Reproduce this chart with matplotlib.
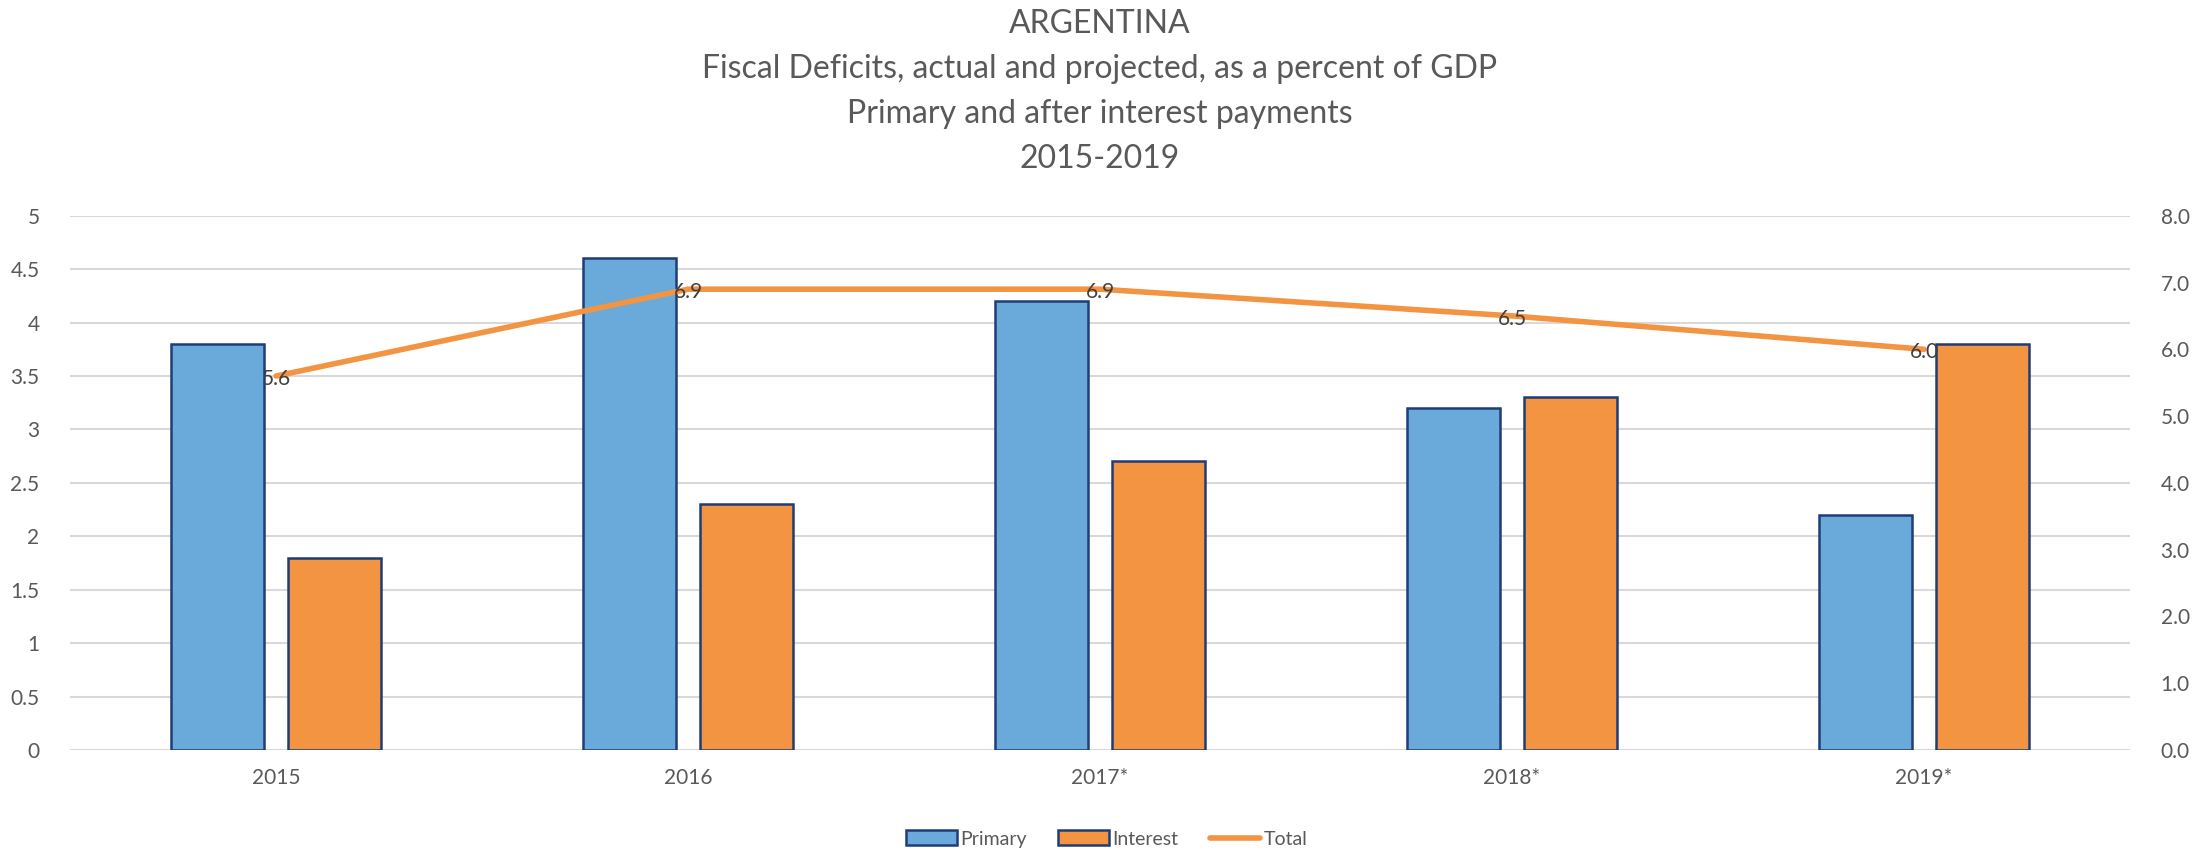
import matplotlib

matplotlib.use("Agg")
import matplotlib.pyplot as plt
import numpy as np
from matplotlib.lines import Line2D
from matplotlib.patches import Patch

plt.rcParams["font.family"] = ["Lato", "DejaVu Sans"]

years = ["2015", "2016", "2017*", "2018*", "2019*"]
primary = [3.8, 4.6, 4.2, 3.2, 2.2]
interest = [1.8, 2.3, 2.7, 3.3, 3.8]
total = [5.6, 6.9, 6.9, 6.5, 6.0]

BLUE = "#6AAADB"
ORANGE = "#F29441"
EDGE = "#1F3C78"
GRID = "#D9D9D9"
TXT = "#595959"

fig = plt.figure(figsize=(22.11, 8.52), dpi=100)
ax = fig.add_axes([0.0317, 0.1197, 0.9317, 0.6271])
ax2 = ax.twinx()

x = np.arange(len(years))
w, off = 0.225, 0.1415
ax.bar(x - off, primary, w, color=BLUE, edgecolor=EDGE, linewidth=1.8, zorder=3)
ax.bar(x + off, interest, w, color=ORANGE, edgecolor=EDGE, linewidth=1.8, zorder=3)

ax2.plot(x, total, color=ORANGE, lw=4, solid_capstyle="round", zorder=3)
for xi, v in zip(x, total):
    ax2.annotate(f"{v:.1f}", (xi, v), xytext=(0, -2), textcoords="offset points",
                 ha="center", va="center", fontsize=15, color="#404040", zorder=4)

ax.set_xlim(-0.5, len(years) - 0.5)
ax.set_ylim(0, 5)
ax2.set_ylim(0, 8)
ax.set_yticks(np.arange(0, 5.01, 0.5))
ax.set_yticklabels([f"{t:g}" for t in np.arange(0, 5.01, 0.5)])
ax2.set_yticks(np.arange(0, 8.01, 1))
ax2.set_yticklabels([f"{t:.1f}" for t in np.arange(0, 8.01, 1)])
ax.set_xticks(x)
ax.set_xticklabels(years)

ax.grid(axis="y", color=GRID, lw=1.5, zorder=0)
ax.set_axisbelow(True)
for a in (ax, ax2):
    for s in a.spines.values():
        s.set_visible(False)
ax.tick_params(axis="both", length=0, labelsize=15, labelcolor=TXT)
ax.tick_params(axis="y", pad=22)
ax.tick_params(axis="x", pad=13)
ax2.tick_params(axis="y", length=0, labelsize=15, labelcolor=TXT, pad=22)

title = ["ARGENTINA",
         "Fiscal Deficits, actual and projected, as a percent of GDP",
         "Primary and after interest payments",
         "2015-2019"]
for i, line in enumerate(title):
    fig.text(1100 / 2211, 1 - (24 + 45 * i) / 852, line, ha="center", va="center",
             fontsize=23, color=TXT)

handles = [Patch(facecolor=BLUE, edgecolor=EDGE, linewidth=1.8),
           Patch(facecolor=ORANGE, edgecolor=EDGE, linewidth=1.8),
           Line2D([], [], color=ORANGE, lw=4, solid_capstyle="round")]
fig.legend(handles, ["Primary", "Interest", "Total"], loc="center",
           bbox_to_anchor=(1107 / 2211, 1 - 839 / 852), ncol=3, frameon=False,
           fontsize=14, labelcolor=TXT, handlelength=2.6, handleheight=0.8,
           handletextpad=0.2, columnspacing=1.6)

fig.savefig("out.png", dpi=100)
